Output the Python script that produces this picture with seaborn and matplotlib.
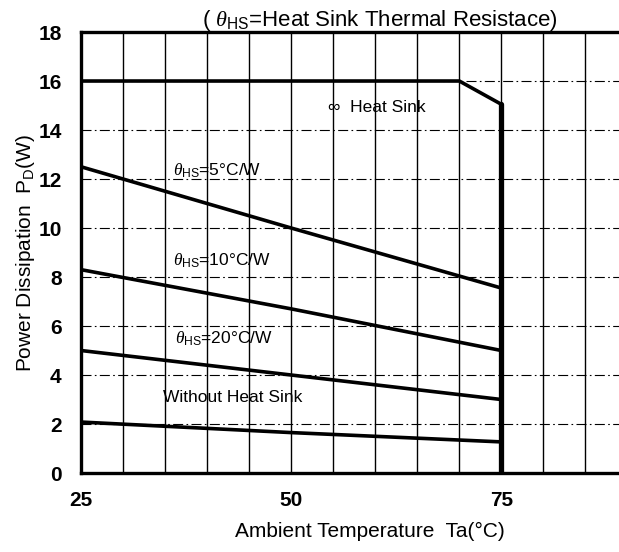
import matplotlib
matplotlib.use('Agg')
import matplotlib.pyplot as plt
from matplotlib.ticker import MultipleLocator, FixedLocator
import seaborn as sns

# Curvas de disipación
temp_inf = [25, 70, 75, 75]
pd_inf = [16.0, 16.0, 15.05, 0.0]
temp_lin = [25, 50, 75]
pd_5 = [12.5, 10.0, 7.55]
pd_10 = [8.3, 6.7, 5.0]
pd_20 = [5.0, 4.0, 3.0]
pd_none = [2.08, 1.65, 1.27]

x_ticks = [25, 50, 75]
y_ticks = list(range(0, 20, 2))

sns.set_theme(style='white')
plt.rcParams['font.family'] = ['Liberation Sans', 'DejaVu Sans']
plt.rcParams['mathtext.fontset'] = 'custom'
plt.rcParams['mathtext.rm'] = 'Liberation Sans'
plt.rcParams['mathtext.it'] = 'Liberation Serif:italic'

fig = plt.figure(figsize=(6.19, 5.52), dpi=100)
ax = fig.add_axes([0.1309, 0.1431, 0.8691, 0.7989])

kw = dict(color='black', linewidth=2.6, ax=ax, legend=False, sort=False,
          estimator=None)
sns.lineplot(x=temp_inf[:3], y=pd_inf[:3], **kw)
sns.lineplot(x=temp_inf[2:], y=pd_inf[2:], color='black', linewidth=3.8,
             ax=ax, legend=False, sort=False, estimator=None)
for serie in [pd_5, pd_10, pd_20, pd_none]:
    sns.lineplot(x=temp_lin, y=serie, **kw)

ax.set_xlim(25, 89)
ax.set_ylim(0, 18)
ax.xaxis.set_major_locator(FixedLocator(x_ticks))
ax.xaxis.set_minor_locator(MultipleLocator(5))
ax.yaxis.set_major_locator(FixedLocator(y_ticks))

ax.grid(False)
ax.xaxis.grid(True, which='both', color='black', linewidth=1.0, linestyle='-')
ax.yaxis.grid(True, which='major', color='black', linewidth=0.8,
              linestyle=(0, (9, 3, 1.5, 3)))
ax.set_axisbelow(True)

for s in ['left', 'top', 'bottom']:
    ax.spines[s].set_color('black')
    ax.spines[s].set_linewidth(2.4)
ax.spines['right'].set_visible(False)

ax.tick_params(axis='both', which='both', length=0, labelsize=15,
               colors='black')
ax.tick_params(axis='y', pad=14)
ax.tick_params(axis='x', pad=13)
for lab in ax.get_xticklabels() + ax.get_yticklabels():
    lab.set_fontweight('bold')

ax.set_xlabel('Ambient Temperature  Ta(°C)', fontsize=15, color='black')
ax.xaxis.set_label_coords(0.537, -0.11)
ax.set_ylabel(r'Power Dissipation  P$_{\mathrm{D}}$(W)', fontsize=15,
              color='black')
ax.yaxis.set_label_coords(-0.082, 0.5)

# Etiquetas de curvas
txt = dict(fontsize=12.5, color='black', va='center', ha='left')
ax.text(54.4, 14.9, '∞  Heat Sink', **txt)
ax.text(36.0, 12.33, r'$\theta_{\mathrm{HS}}$=5°C/W', **txt)
ax.text(36.0, 8.66, r'$\theta_{\mathrm{HS}}$=10°C/W', **txt)
ax.text(36.2, 5.49, r'$\theta_{\mathrm{HS}}$=20°C/W', **txt)
ax.text(34.7, 3.07, 'Without Heat Sink', **txt)

fig.text(0.614, 0.962, r'( $\theta_{\mathrm{HS}}$=Heat Sink Thermal Resistace)',
         fontsize=16, color='black', ha='center', va='center')

plt.savefig('out.png', dpi=100)
plt.close()
